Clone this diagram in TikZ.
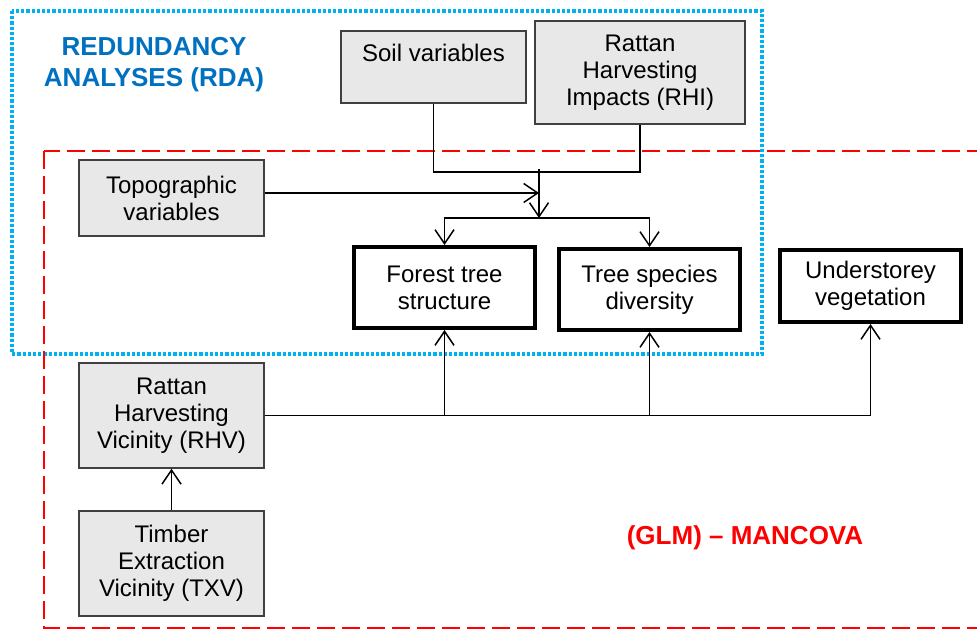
\documentclass[tikz,border=0pt]{standalone}
\usepackage{fontspec}
\setmainfont{Liberation Sans}
\usetikzlibrary{arrows.meta,positioning,calc}
\definecolor{rdablue}{RGB}{0,112,192}
\definecolor{rdaline}{RGB}{0,176,240}
\definecolor{glmred}{RGB}{255,0,0}
\definecolor{boxgray}{RGB}{232,232,232}
\tikzset{
  var/.style={rectangle, draw=black!75, line width=0.75pt, fill=boxgray,
              minimum width=92.5pt, align=center, inner sep=2pt,
              font=\fontsize{12}{13.5}\selectfont},
  resp/.style={rectangle, draw=black, line width=2pt, fill=white,
               minimum width=90.5pt, minimum height=40.5pt, align=center, inner sep=2pt,
               font=\fontsize{12}{13.5}\selectfont},
  conn/.style={line width=0.75pt, draw=black},
  arr/.style={conn, -{Straight Barb[length=7pt, width=9.5pt, line width=0.75pt]}},
  title/.style={font=\fontsize{13}{15.5}\selectfont\bfseries, align=center},
}

\begin{document}
\begin{tikzpicture}[x=0.5pt,y=-0.5pt]
\clip (0,0) rectangle (977,630);
\fill[white] (0,0) rectangle (977,630);

% ================= analysis frames =================
\draw[rdaline, line width=1.6pt, dash pattern=on 1.6pt off 1pt] (12,11) rectangle (762,354);
\draw[glmred, line width=1pt, dash pattern=on 9pt off 3.5pt] (44,151) rectangle (1000,628);

\node[title, text=rdablue] (rda) at (154,64.5) {REDUNDANCY\\ANALYSES (RDA)};
\node[title, text=glmred] (glm) at (745,538) {(GLM) -- MANCOVA};

% ================= explanatory variables =================
\node[var, minimum height=36pt] (soil) at (433.5,67) {Soil variables\\[-3pt]\strut};
\node[var, minimum width=105pt, minimum height=51.5pt] (rhi) at (640,72.5)
  {Rattan\\Harvesting\\Impacts (RHI)};
\node[var, minimum height=38pt] (topo) at (171.5,198) {Topographic\\variables};
\node[var, minimum height=52.5pt] (rhv) at (171.5,415.5) {Rattan\\Harvesting\\Vicinity (RHV)};
\node[var, minimum height=52.5pt] (txv) at (171.5,563.5) {Timber\\Extraction\\Vicinity (TXV)};

% ================= response variables =================
\node[resp] (fts) at (444.5,287.5) {Forest tree\\structure};
\node[resp] (tsd) at (649.5,289.5) {Tree species\\diversity};
\node[resp, minimum height=36pt] (usv) at (870.5,286) {Understorey\\vegetation};

% ================= RDA links =================
\coordinate (jn) at (539,172);
\coordinate (split) at (539,218);
\draw[conn] (soil.south) |- (jn) -| (rhi.south);
\draw[arr] ([yshift=1.5pt]jn) -- (split);
\draw[arr] ([yshift=2.5pt]topo.east) -- ([yshift=2.5pt]topo.east -| jn);
\foreach \t in {fts, tsd} {\draw[arr] (split) -| (\t.north);}

% ================= MANCOVA links =================
\draw[conn] (rhv.east) -- (rhv.east -| usv.south);
\foreach \t in {fts, tsd, usv} {\draw[arr] (rhv.east -| \t.south) -- (\t.south);}
\draw[arr] (txv) -- (rhv);

\end{tikzpicture}
\end{document}
